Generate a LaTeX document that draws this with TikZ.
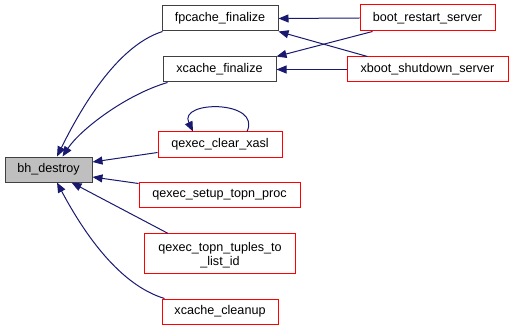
\documentclass[tikz,border=0pt]{standalone}
\usepackage{fontspec}
\setmainfont{Liberation Sans}
\usetikzlibrary{arrows.meta,calc}
\definecolor{edgeblue}{HTML}{191970}
\definecolor{nodegray}{HTML}{BFBFBF}
\definecolor{linkred}{HTML}{FF0000}
\begin{document}
\begin{tikzpicture}[x=1pt,y=-1pt,
  fnfont/.style={font=\fontsize{12.6}{14.5}\selectfont},
  fn/.style={draw=black!75,line width=1pt,fill=white,inner sep=0pt,
    minimum height=25pt,fnfont},
  reffn/.style={fn,draw=linkred},
  cur/.style={fn,fill=nodegray},
  textline/.style={fnfont,inner sep=0pt,anchor=base},
  edge/.style={draw=edgeblue,line width=1pt,
    {Triangle[length=10pt,width=8pt]}-}]
\useasboundingbox (0,0) rectangle (513,331);

% functions
\node[cur,minimum width=87pt] (bh) at (48.5,169.5) {bh\_destroy};
\node[fn,minimum width=116pt] (fp) at (220,18.5) {fpcache\_finalize};
\node[fn,minimum width=113pt] (xc) at (219.5,69.5) {xcache\_finalize};
\node[reffn,minimum width=124pt] (qcx) at (220,144.5) {qexec\_clear\_xasl};
\node[reffn,minimum width=161pt] (qst) at (219.5,194.5) {qexec\_setup\_topn\_proc};
\node[inner sep=0pt,minimum width=150pt,minimum height=40pt] (qtt) at (220,253.5) {};
\draw[draw=linkred,line width=1pt] (qtt.north west) rectangle (qtt.south east);
\node[textline] (qttline1) at ($(qtt.center)+(0,-2.5)$) {qexec\_topn\_tuples\_to};
\node[textline] (qttline2) at ($(qtt.center)+(0,12)$) {\_list\_id};
\node[reffn,minimum width=116pt] (xcc) at (220,311.5) {xcache\_cleanup};
\node[reffn,minimum width=135pt,minimum height=26pt] (brs) at (427.5,18) {boot\_restart\_server};
\node[reffn,minimum width=161pt] (xbs) at (427.5,69.5) {xboot\_shutdown\_server};

% callers of bh_destroy
\draw[edge] ($(bh.north)+(8.5,0)$) .. controls (85,100) and (120,45) .. ($(fp.south west)+(1,0)$);
\draw[edge] ($(bh.north)+(14,0)$) .. controls (80,130) and (125,95) .. ($(xc.south west)+(5,0)$);
\draw[edge] ($(bh.east)+(0,-7.5)$) -- ($(qcx.west)+(0,8)$);
\draw[edge] ($(bh.east)+(0,7.5)$) -- ($(qst.west)+(0,-11)$);
\draw[edge] ($(bh.south)+(23,0)$) -- ($(qtt.north west)+(23,0)$);
\draw[edge] ($(bh.south)+(8.5,0)$) .. controls (85,235) and (120,285) .. ($(xcc.north west)+(3,0)$);

% recursive call
\draw[draw=edgeblue,line width=1pt,-{Triangle[length=10pt,width=8pt]}]
  ($(qcx.north)+(27,0)$) .. controls (262,100) and (178,100) .. ($(qcx.north)+(-27,0)$);

% callers of the finalize functions
\draw[edge] (fp.east) -- (brs.west);
\draw[edge] (xc.east) -- (xbs.west);
\draw[edge] (fp.south east) -- ($(xbs.north west)+(21,0)$);
\draw[edge] (xc.north east) -- ($(brs.south west)+(13,0)$);
\end{tikzpicture}
\end{document}
